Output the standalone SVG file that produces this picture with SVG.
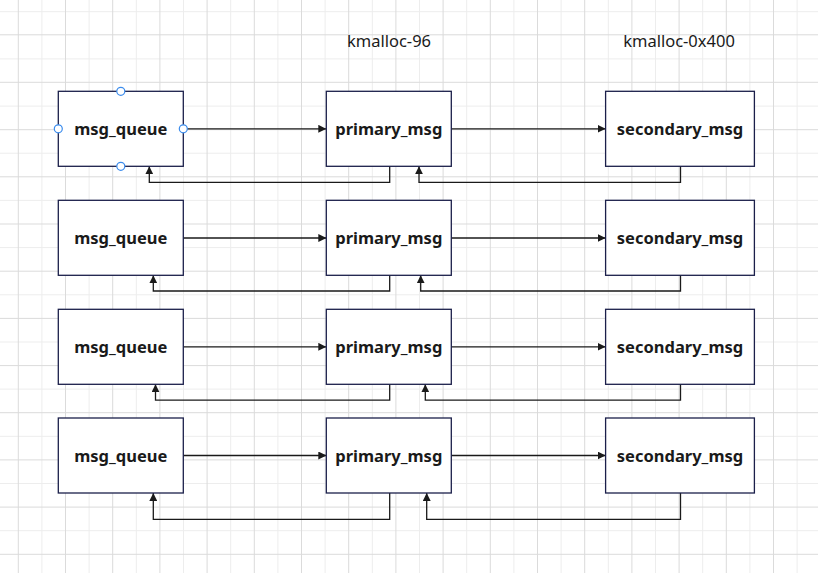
<svg xmlns="http://www.w3.org/2000/svg" width="818" height="573" viewBox="0 0 818 573">
<defs>
<style>
.gl{stroke:#ededed;stroke-width:1;fill:none}
.gd{stroke:#dbdbdb;stroke-width:1;fill:none}
.box{fill:#ffffff;stroke:#1b1f4a;stroke-width:1.3}
.lbl{font-family:"Noto Sans","Liberation Sans",sans-serif;font-weight:bold;font-size:16.5px;fill:#1a1a1a;text-anchor:middle}
.cap{font-family:"Noto Sans","Liberation Sans",sans-serif;font-size:16.5px;fill:#1a1a1a;text-anchor:middle}
.cn{fill:none;stroke:#1a1a1a;stroke-width:1.3}
.hd{fill:#ffffff;stroke:#3b8ced;stroke-width:1.2}
</style>
<marker id="ar" viewBox="0 0 10 10" refX="10" refY="5" markerWidth="8" markerHeight="8" markerUnits="userSpaceOnUse" orient="auto">
<path d="M0,0 L10,5 L0,10 Z" fill="#1a1a1a"/>
</marker>
</defs>
<rect width="818" height="573" fill="#ffffff"/>
<g id="grid">
<path class="gl" d="M41.9 0V573M89.1 0V573M136.3 0V573M183.5 0V573M230.7 0V573M277.9 0V573M325.1 0V573M372.3 0V573M419.5 0V573M466.7 0V573M513.9 0V573M561.1 0V573M608.3 0V573M655.5 0V573M702.7 0V573M749.9 0V573M797.1 0V573M0 11.7H818M0 58.9H818M0 106.1H818M0 153.2H818M0 200.4H818M0 247.6H818M0 294.8H818M0 342H818M0 389.1H818M0 436.3H818M0 483.5H818M0 530.7H818"/>
<path class="gd" d="M18.3 0V573M65.5 0V573M112.7 0V573M159.9 0V573M207.1 0V573M254.3 0V573M301.5 0V573M348.7 0V573M395.9 0V573M443.1 0V573M490.3 0V573M537.5 0V573M584.7 0V573M631.9 0V573M679.1 0V573M726.3 0V573M773.5 0V573M0 34.8H818M0 82.3H818M0 129.7H818M0 176.8H818M0 224H818M0 271.2H818M0 318.4H818M0 365.6H818M0 412.7H818M0 459.9H818M0 507.1H818M0 554.3H818"/>
</g>
<text class="cap" x="389" y="46.5">kmalloc-96</text>
<text class="cap" x="679" y="46.5">kmalloc-0x400</text>
<g id="connectors">
<path class="cn" marker-end="url(#ar)" d="M183.3 128.8H326.3"/>
<path class="cn" marker-end="url(#ar)" d="M451.3 128.8H605.6"/>
<path class="cn" marker-end="url(#ar)" d="M389.7 166.3V182.3H149.3V166.3"/>
<path class="cn" marker-end="url(#ar)" d="M680.5 166.3V182.3H419V166.3"/>
<path class="cn" marker-end="url(#ar)" d="M183.3 238H326.3"/>
<path class="cn" marker-end="url(#ar)" d="M451.3 238H605.6"/>
<path class="cn" marker-end="url(#ar)" d="M389.7 275.3V291H153.3V275.3"/>
<path class="cn" marker-end="url(#ar)" d="M680.5 275.3V291H420.7V275.3"/>
<path class="cn" marker-end="url(#ar)" d="M183.3 346.8H326.3"/>
<path class="cn" marker-end="url(#ar)" d="M451.3 346.8H605.6"/>
<path class="cn" marker-end="url(#ar)" d="M389.7 384.3V400.2H155.5V384.3"/>
<path class="cn" marker-end="url(#ar)" d="M680.5 384.3V400.2H425.3V384.3"/>
<path class="cn" marker-end="url(#ar)" d="M183.3 455.5H326.3"/>
<path class="cn" marker-end="url(#ar)" d="M451.3 455.5H605.6"/>
<path class="cn" marker-end="url(#ar)" d="M389.7 493V519.3H153.3V493"/>
<path class="cn" marker-end="url(#ar)" d="M680.5 493V519.3H426.7V493"/>
</g>
<g id="msg_queue_1"><rect class="box" x="58.3" y="91.3" width="125" height="75"/><text class="lbl" x="120.8" y="134.8">msg_queue</text></g>
<g id="primary_msg_1"><rect class="box" x="326.3" y="91.3" width="125" height="75"/><text class="lbl" x="388.8" y="134.8">primary_msg</text></g>
<g id="secondary_msg_1"><rect class="box" x="605.6" y="91.3" width="148.8" height="75"/><text class="lbl" x="680" y="134.8">secondary_msg</text></g>
<g id="msg_queue_2"><rect class="box" x="58.3" y="200.3" width="125" height="75"/><text class="lbl" x="120.8" y="244">msg_queue</text></g>
<g id="primary_msg_2"><rect class="box" x="326.3" y="200.3" width="125" height="75"/><text class="lbl" x="388.8" y="244">primary_msg</text></g>
<g id="secondary_msg_2"><rect class="box" x="605.6" y="200.3" width="148.8" height="75"/><text class="lbl" x="680" y="244">secondary_msg</text></g>
<g id="msg_queue_3"><rect class="box" x="58.3" y="309.3" width="125" height="75"/><text class="lbl" x="120.8" y="352.8">msg_queue</text></g>
<g id="primary_msg_3"><rect class="box" x="326.3" y="309.3" width="125" height="75"/><text class="lbl" x="388.8" y="352.8">primary_msg</text></g>
<g id="secondary_msg_3"><rect class="box" x="605.6" y="309.3" width="148.8" height="75"/><text class="lbl" x="680" y="352.8">secondary_msg</text></g>
<g id="msg_queue_4"><rect class="box" x="58.3" y="418" width="125" height="75"/><text class="lbl" x="120.8" y="461.5">msg_queue</text></g>
<g id="primary_msg_4"><rect class="box" x="326.3" y="418" width="125" height="75"/><text class="lbl" x="388.8" y="461.5">primary_msg</text></g>
<g id="secondary_msg_4"><rect class="box" x="605.6" y="418" width="148.8" height="75"/><text class="lbl" x="680" y="461.5">secondary_msg</text></g>
<g id="selection_handles">
<circle class="hd" cx="120.8" cy="91.3" r="4"/>
<circle class="hd" cx="58.3" cy="128.8" r="4"/>
<circle class="hd" cx="183.3" cy="128.8" r="4"/>
<circle class="hd" cx="120.8" cy="166.3" r="4"/>
</g>
</svg>
